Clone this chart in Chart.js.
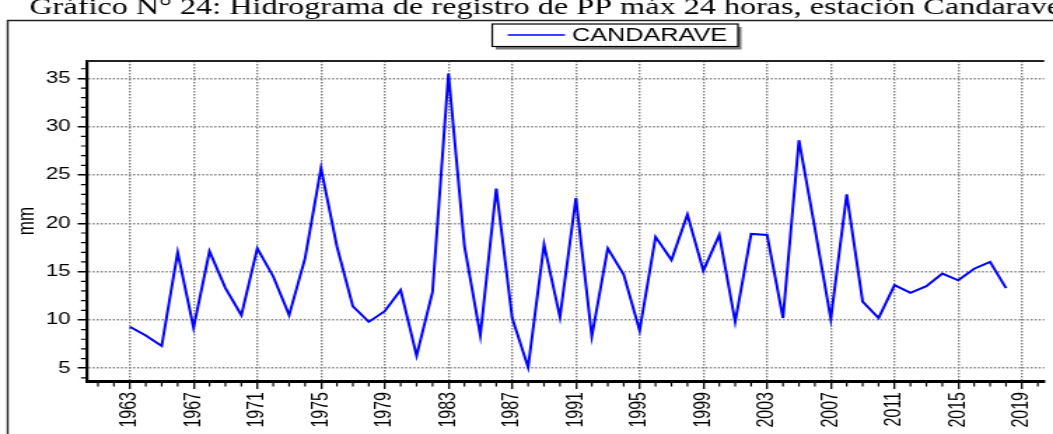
<!DOCTYPE html>
<html>
<head>
<meta charset="utf-8">
<script src="https://cdn.jsdelivr.net/npm/chart.js@4.4.1/dist/chart.umd.min.js"></script>
<style>
  html, body { margin: 0; padding: 0; background: #fff; overflow: hidden; }
  /* el gràfic original està estirat horitzontalment */
  #wrap { width: 752px; height: 434px; transform: scaleX(1.4003); transform-origin: 0 0; }
</style>
</head>
<body>
<div id="wrap"><canvas id="grafic" width="752" height="434"></canvas></div>
<script>
// --- Dades ---
const titol = 'Gráfico N° 24: Hidrograma de registro de PP máx 24 horas, estación Candarave';
const serie = 'CANDARAVE';
const anys = [1963, 1964, 1965, 1966, 1967, 1968, 1969, 1970, 1971, 1972,
              1973, 1974, 1975, 1976, 1977, 1978, 1979, 1980, 1981, 1982,
              1983, 1984, 1985, 1986, 1987, 1988, 1989, 1990, 1991, 1992,
              1993, 1994, 1995, 1996, 1997, 1998, 1999, 2000, 2001, 2002,
              2003, 2004, 2005, 2006, 2007, 2008, 2009, 2010, 2011, 2012,
              2013, 2014, 2015, 2016, 2017, 2018];
const ppMax = [9.3, 8.4, 7.3, 17.0, 9.2, 17.1, 13.3, 10.5, 17.4, 14.5,
               10.5, 16.4, 25.7, 17.6, 11.4, 9.8, 10.9, 13.1, 6.3, 12.9,
               35.5, 17.7, 8.4, 23.6, 10.2, 5.1, 17.8, 10.3, 22.6, 8.3,
               17.4, 14.7, 8.9, 18.6, 16.2, 20.9, 15.1, 18.8, 9.8, 18.9,
               18.8, 10.2, 28.6, 19.5, 10.1, 23.0, 11.9, 10.2, 13.6, 12.8,
               13.5, 14.8, 14.1, 15.3, 16.0, 13.3];
const ticksAny = [1963, 1967, 1971, 1975, 1979, 1983, 1987, 1991, 1995, 1999, 2003, 2007, 2011, 2015, 2019];
const ticksMm = [5, 10, 15, 20, 25, 30, 35];

const lletra = "'Liberation Sans', Arial, sans-serif";

// --- Marc, títol, llegenda i marques menors ---
const decoracio = {
    id: 'decoracio',
    beforeDraw(chart) {
        const ctx = chart.ctx;
        ctx.save();
        ctx.strokeStyle = '#222';
        ctx.lineWidth = 1.4;
        ctx.beginPath();
        ctx.moveTo(5.5, 440); ctx.lineTo(5.5, 20.5); ctx.lineTo(760, 20.5);
        ctx.stroke();
        ctx.fillStyle = '#000';
        ctx.font = "23px 'Liberation Serif', 'Times New Roman', serif";
        ctx.textBaseline = 'alphabetic';
        ctx.fillText(titol, 21, 13.5);
        ctx.restore();
    },
    afterDraw(chart) {
        const ctx = chart.ctx, area = chart.chartArea;
        const sx = chart.scales.x, sy = chart.scales.y;
        ctx.save();
        // vora superior
        ctx.strokeStyle = '#222';
        ctx.lineWidth = 2;
        ctx.beginPath(); ctx.moveTo(area.left, area.top); ctx.lineTo(area.right, area.top); ctx.stroke();
        // marques menors
        ctx.strokeStyle = '#000';
        ctx.lineWidth = 1.2;
        ctx.beginPath();
        for (let v = Math.ceil(sy.min); v <= sy.max; v++) {
            if (v % 5 === 0) continue;
            const py = sy.getPixelForValue(v);
            ctx.moveTo(area.left - 4.2, py); ctx.lineTo(area.left, py);
        }
        for (let a = Math.ceil(sx.min); a <= sx.max; a++) {
            if (ticksAny.includes(a)) continue;
            const px = sx.getPixelForValue(a);
            ctx.moveTo(px, area.bottom); ctx.lineTo(px, area.bottom + 5.5);
        }
        ctx.stroke();
        // llegenda
        const ds = chart.data.datasets[0];
        const bx = 351.5, by = 24, bw = 175.5, bh = 22.5;
        ctx.fillStyle = '#7a7a7a';
        ctx.fillRect(bx + 2.5, by + 3, bw, bh);
        ctx.fillStyle = '#fff';
        ctx.fillRect(bx, by, bw, bh);
        ctx.strokeStyle = '#000';
        ctx.lineWidth = 1.2;
        ctx.strokeRect(bx, by, bw, bh);
        ctx.strokeStyle = ds.borderColor;
        ctx.lineWidth = 1.5;
        ctx.beginPath(); ctx.moveTo(bx + 11, by + 11); ctx.lineTo(bx + 52, by + 11); ctx.stroke();
        ctx.fillStyle = '#000';
        ctx.font = '18px ' + lletra;
        ctx.textBaseline = 'middle';
        ctx.fillText(ds.label, bx + 57, by + 12);
        ctx.restore();
    }
};

new Chart(document.getElementById('grafic'), {
    type: 'line',
    data: {
        datasets: [{
            label: serie,
            data: anys.map((a, i) => ({ x: a, y: ppMax[i] })),
            borderColor: '#0000ff',
            borderWidth: 2,
            pointRadius: 0,
            tension: 0,
            fill: false
        }]
    },
    options: {
        responsive: false,
        animation: false,
        layout: { padding: { top: 61, left: 0, right: 0, bottom: 0 } },
        plugins: { legend: { display: false }, tooltip: { enabled: false }, title: { display: false } },
        scales: {
            x: {
                type: 'linear',
                min: 1960.3,
                max: 2020.4,
                afterBuildTicks: (scale) => { scale.ticks = ticksAny.map(v => ({ value: v })); },
                afterFit: (scale) => { scale.height = 53; },
                grid: { color: '#7f7f7f', lineWidth: 1.4, drawTicks: true, tickLength: 8, tickColor: '#000', tickWidth: 1.3 },
                border: { display: true, color: '#000', width: 3, dash: [1.5, 1.5] },
                ticks: {
                    autoSkip: false, minRotation: 90, maxRotation: 90, padding: 3,
                    color: '#000', font: { family: lletra, size: 16 },
                    callback: (v) => String(v)
                }
            },
            y: {
                min: 3.68,
                max: 36.8,
                afterBuildTicks: (scale) => { scale.ticks = ticksMm.map(v => ({ value: v })); },
                afterFit: (scale) => { scale.width = 62; },
                grid: { color: '#7f7f7f', lineWidth: 1.5, drawTicks: true, tickLength: 6.5, tickColor: '#000', tickWidth: 1.5 },
                border: { display: true, color: '#000', width: 2.2, dash: [1.4, 1.5] },
                ticks: { padding: 5, color: '#000', font: { family: lletra, size: 16 } },
                title: { display: true, text: 'mm', color: '#000', font: { family: lletra, size: 17 }, padding: { top: 9, bottom: 0 } }
            }
        }
    },
    plugins: [decoracio]
});
</script>
</body>
</html>
